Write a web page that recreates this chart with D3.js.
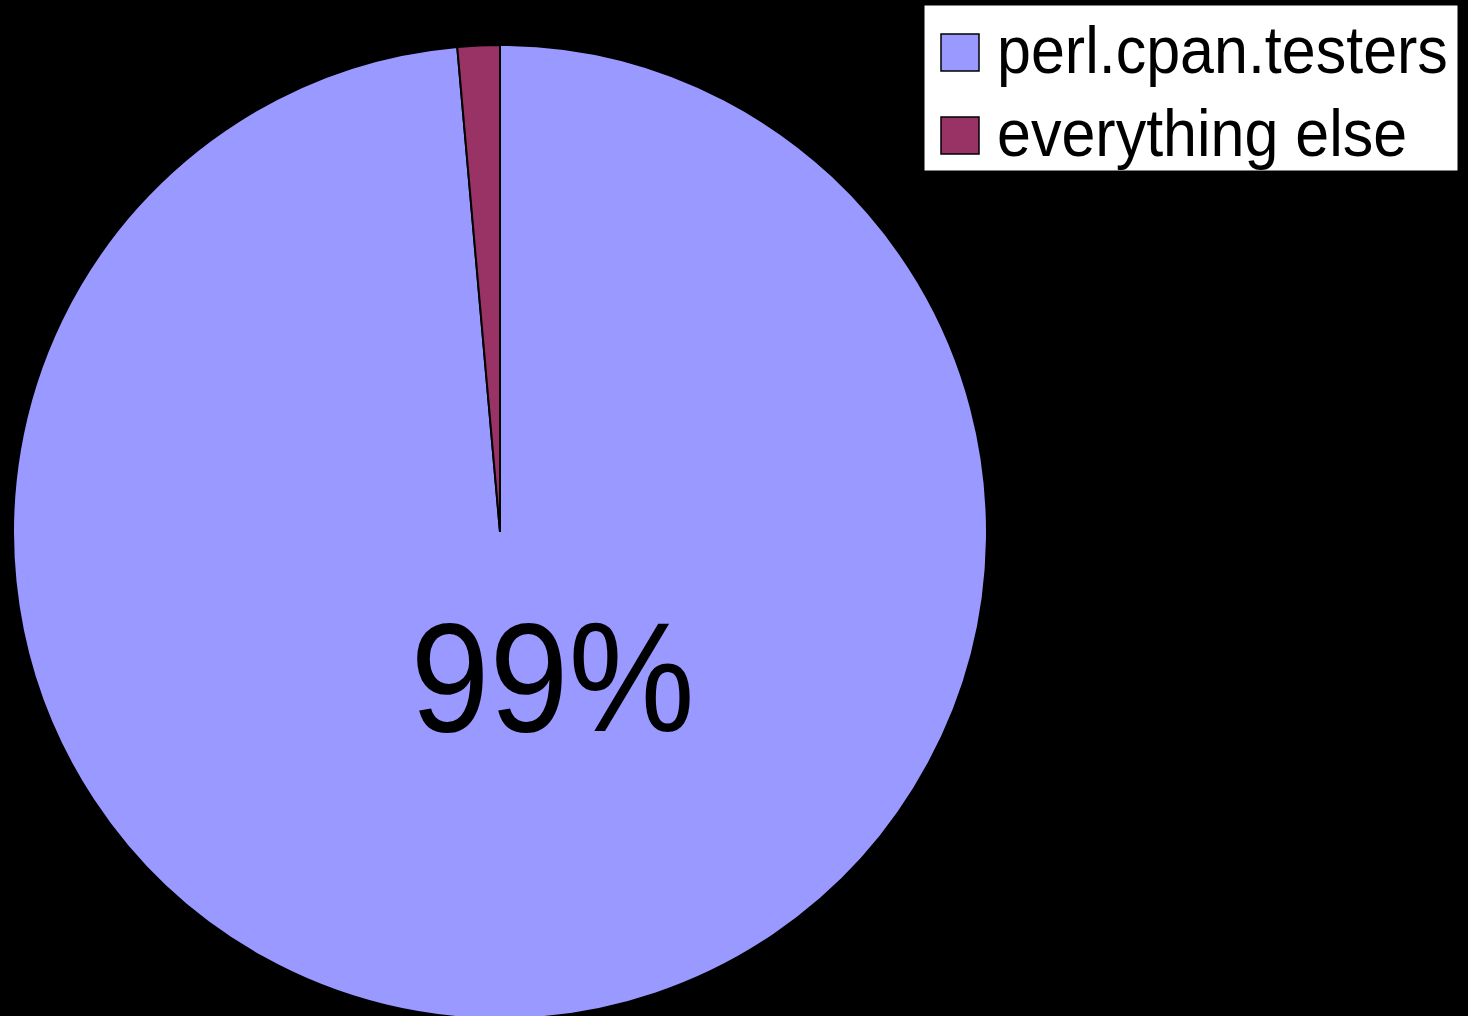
<!DOCTYPE html>
<html>
<head>
<meta charset="utf-8">
<script src="https://cdn.jsdelivr.net/npm/d3@7"></script>
<style>
  body { margin: 0; background: #000; }
  svg { display: block; }
</style>
</head>
<body>
<div id="chart"></div>
<script>
/* DATA */
const categories = ["perl.cpan.testers", "everything else"];
const values = [98.6, 1.4];
const colors = ["#9999FF", "#993366"];
const sliceLabels = ["99%", ""];

const width = 1468, height = 1016;
const cx = 500, cy = 532, radius = 487;

const svg = d3.select("#chart")
  .append("svg")
  .attr("width", width)
  .attr("height", height);

svg.append("rect")
  .attr("width", width)
  .attr("height", height)
  .attr("fill", "#000");

const data = categories.map((c, i) => ({ name: c, value: values[i], color: colors[i], label: sliceLabels[i] }));

const pie = d3.pie().value(d => d.value).sort(null);
const arc = d3.arc().innerRadius(0).outerRadius(radius);
const arcs = pie(data);

const g = svg.append("g").attr("transform", `translate(${cx},${cy})`);

g.selectAll("path")
  .data(arcs)
  .join("path")
  .attr("d", arc)
  .attr("fill", d => d.data.color)
  .attr("stroke", "#000")
  .attr("stroke-width", 2);

// slice labels
const labelArc = d3.arc().innerRadius(radius * 0.36).outerRadius(radius * 0.36);
g.selectAll("text.slice")
  .data(arcs.filter(d => d.data.label))
  .join("text")
  .attr("class", "slice")
  .attr("transform", d => {
    const [x, y] = labelArc.centroid(d);
    return `translate(${x + 45},${y + 24}) scale(1,1.1)`;
  })
  .attr("text-anchor", "middle")
  .attr("font-family", "Liberation Sans, Arial, sans-serif")
  .attr("font-size", 142)
  .attr("fill", "#000")
  .text(d => d.data.label);

// legend
const legend = svg.append("g").attr("transform", "translate(924,5)");
legend.append("rect")
  .attr("width", 534)
  .attr("height", 166)
  .attr("fill", "#fff")
  .attr("stroke", "#000")
  .attr("stroke-width", 1);

const rowH = 83;
const items = legend.selectAll("g.item")
  .data(data)
  .join("g")
  .attr("class", "item")
  .attr("transform", (d, i) => `translate(0,${i * rowH})`);

items.append("rect")
  .attr("x", 17)
  .attr("y", 29)
  .attr("width", 38)
  .attr("height", 37)
  .attr("fill", d => d.color)
  .attr("stroke", "#000")
  .attr("stroke-width", 1.5);

items.append("text")
  .attr("transform", "translate(73,68) scale(1,1.1)")
  .attr("font-family", "Liberation Sans, Arial, sans-serif")
  .attr("font-size", 61)
  .attr("fill", "#000")
  .text(d => d.name);
</script>
</body>
</html>
